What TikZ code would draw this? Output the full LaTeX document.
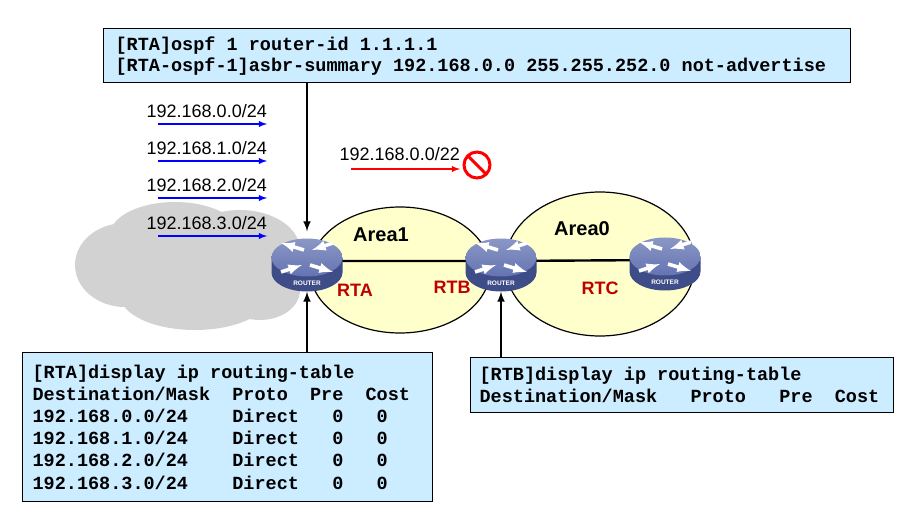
\documentclass[tikz,border=0pt]{standalone}
\usepackage{fontspec}
\setmainfont{Liberation Sans}
\setmonofont{Liberation Mono}
\usetikzlibrary{arrows,shapes,positioning}

\definecolor{cmdblue}{RGB}{204,236,255}
\definecolor{areayellow}{RGB}{255,255,204}
\definecolor{cloudgray}{RGB}{210,210,210}
\definecolor{rtred}{RGB}{192,0,0}
\definecolor{routertop}{RGB}{100,116,178}
\definecolor{routerside}{RGB}{62,76,135}
\definecolor{netblue}{RGB}{0,0,255}

% blank of #1 characters in the command font
\newcommand{\gap}[1]{\hspace*{#1\fontcharwd\font`0}}

\tikzset{
  cmdbox/.style={draw=black,fill=cmdblue,line width=1.2pt,anchor=north west,align=left,inner xsep=10pt,
    font=\ttfamily\bfseries\fontsize{18.5}{22.2}\selectfont},
  area/.style={draw=black,fill=areayellow,line width=1.2pt},
  router/.style={minimum width=71pt,minimum height=53pt,inner sep=0pt},
  rtlabel/.style={text=rtred,font=\bfseries\fontsize{18}{18}\selectfont},
  arealabel/.style={font=\bfseries\fontsize{20}{20}\selectfont},
  netlabel/.style={font=\fontsize{18}{18}\selectfont,inner sep=0pt,anchor=south east},
  netarrow/.style={->,>=latex,draw=netblue,line width=1.8pt},
  sumarrow/.style={->,>=latex,draw=red,line width=1.8pt},
  nosign/.style={circle,draw=red,line width=3pt,minimum size=26pt,inner sep=0pt,outer sep=0pt},
  cmdarrow/.style={->,>=latex,line width=2.4pt},
  link/.style={line width=2.4pt},
  routerarrow/.style={->,>=latex,white,line width=3.6pt}
}

\newcommand{\drawrouter}[1]{%
  \begin{scope}[shift={(#1)}]
    \fill[routerside] (-35.5,7.5) -- (-35.5,-7.5) arc[start angle=180,end angle=360,x radius=35.5,y radius=19] -- (35.5,7.5) -- cycle;
    \shade[top color=routertop!75!white,bottom color=routertop] (0,7.5) ellipse[x radius=35.5,y radius=19];
    \draw[routerarrow] (-3,15) -- (-26,22);
    \draw[routerarrow] (26,22) -- (5,15);
    \draw[routerarrow] (3,0) -- (26,-7);
    \draw[routerarrow] (-26,-7) -- (-5,0);
    \node[text=white,font=\bfseries\fontsize{6.5}{6.5}\selectfont] at (0,-18) {ROUTER};
  \end{scope}}

\begin{document}
\begin{tikzpicture}[x=1pt,y=1pt]
  \useasboundingbox (0,0) rectangle (906,507);
  % external network
  \fill[cloudgray] (125,242) ellipse[x radius=50,y radius=42]
    (175,272) ellipse[x radius=65,y radius=33]
    (240,257) ellipse[x radius=60,y radius=40]
    (195,212) ellipse[x radius=75,y radius=35]
    (260,217) ellipse[x radius=40,y radius=30];
  % areas
  \draw[area] (600,243) ellipse[x radius=95,y radius=72];
  \draw[area] (400,237) ellipse[x radius=90,y radius=63];

  \node[router] (rta) at (307,242) {};
  \node[router] (rtb) at (501,242) {};
  \node[router] (rtc) at (665,243) {};
  \draw[link] ([yshift=4pt]rta.center) -- ([yshift=4pt]rtb.center) -- ([yshift=4pt]rtc.center);
  \drawrouter{rta}
  \drawrouter{rtb}
  \drawrouter{rtc}

  \node[arealabel] (area1) at (381,272) {Area1};
  \node[arealabel] (area0) at (582,278) {Area0};
  \node[rtlabel] (rtaname) at (355,217) {RTA};
  \node[rtlabel] (rtbname) at (452,220) {RTB};
  \node[rtlabel] (rtcname) at (600,219) {RTC};

  % external routes
  \foreach \i/\y in {0/389,1/352,2/315,3/277} {
    \node[netlabel] (net\i) at (267,\y) {192.168.\i.0/24};
    \draw[netarrow] ([xshift=12pt,yshift=-6pt]net\i.south west) -- ([yshift=-6pt]net\i.south east);
  }
  \node[netlabel] (sumnet) at (460,346) {192.168.0.0/22};
  \draw[sumarrow] ([xshift=12pt,yshift=-8pt]sumnet.south west) -- ([yshift=-8pt]sumnet.south east);
  \node[nosign] (deny) at (477,342) {};
  \draw[red,line width=3pt] (deny.north west) -- (deny.south east);

  % commands
  \node[cmdbox,text width=723pt,inner xsep=12pt,minimum height=54pt,
    font=\ttfamily\bfseries\fontsize{18.5}{21}\selectfont] (ospfcmd) at (103,479)
    {[RTA]ospf\gap{1}1\gap{1}router-id\gap{1}1.1.1.1\\
     {}[RTA-ospf-1]asbr-summary\gap{1}192.168.0.0\gap{1}255.255.252.0\gap{1}not-advertise};
  \node[cmdbox,text width=390pt,minimum height=149pt] (rtatable) at (22,155)
    {[RTA]display\gap{1}ip\gap{1}routing-table\\
     Destination/Mask\gap{2}Proto\gap{2}Pre\gap{2}Cost\\
     192.168.0.0/24\gap{4}Direct\gap{3}0\gap{3}0\\
     192.168.1.0/24\gap{4}Direct\gap{3}0\gap{3}0\\
     192.168.2.0/24\gap{4}Direct\gap{3}0\gap{3}0\\
     192.168.3.0/24\gap{4}Direct\gap{3}0\gap{3}0};
  \node[cmdbox,text width=405pt,inner xsep=9pt,minimum height=55pt] (rtbtable) at (470,150)
    {[RTB]display\gap{1}ip\gap{1}routing-table\\
     Destination/Mask\gap{3}Proto\gap{3}Pre\gap{2}Cost};

  \draw[cmdarrow,shorten >=7pt] (ospfcmd.south -| rta) -- (rta.north);
  \draw[cmdarrow] (rtatable.north -| rta) -- (rta.south);
  \draw[cmdarrow] (rtbtable.north -| rtb) -- (rtb.south);
\end{tikzpicture}
\end{document}
